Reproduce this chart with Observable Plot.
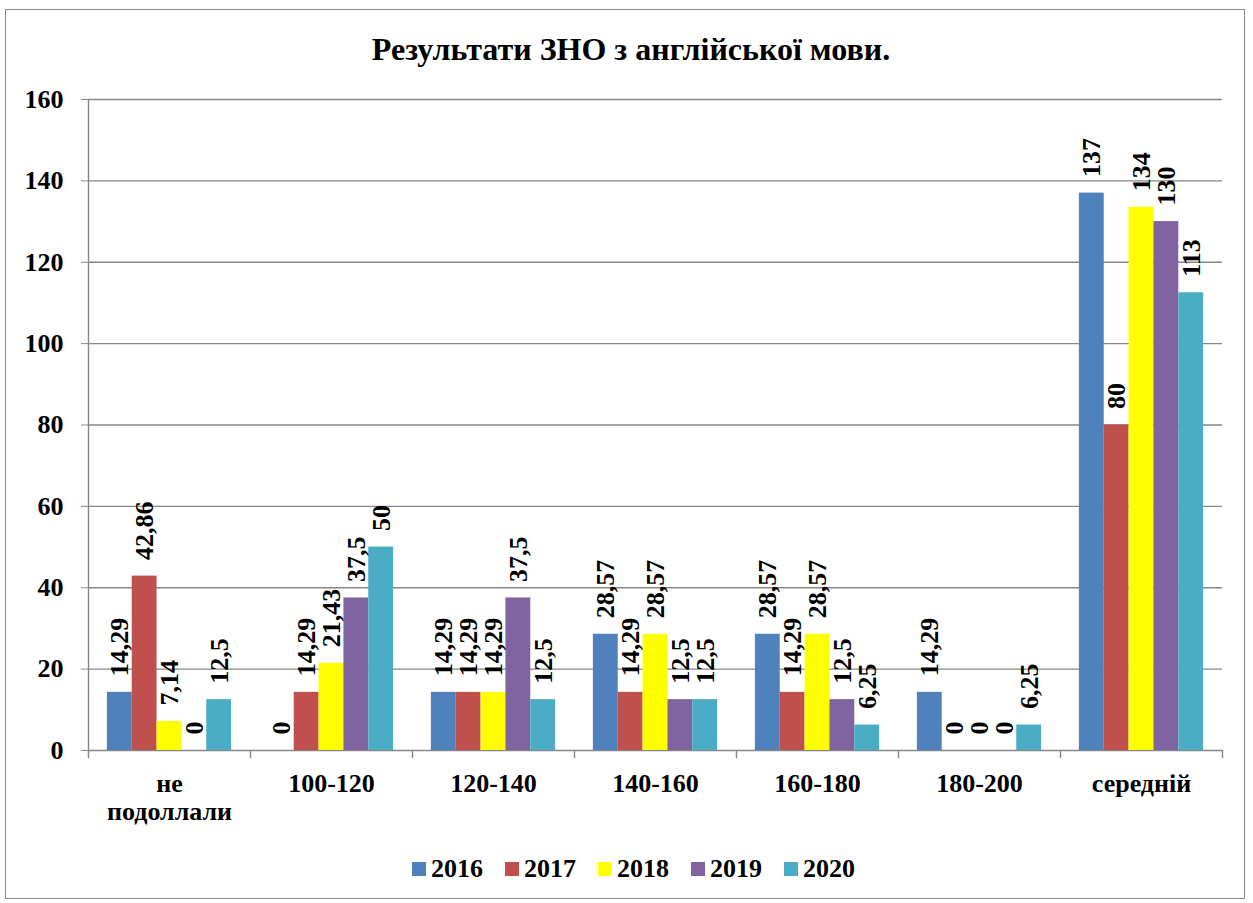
<!DOCTYPE html>
<html>
<head>
<meta charset="utf-8">
<script src="https://cdn.jsdelivr.net/npm/d3@7"></script>
<script src="https://cdn.jsdelivr.net/npm/@observablehq/plot@0.6"></script>
<style>
  html, body { margin: 0; padding: 0; background: #fff; }
  body { width: 1253px; height: 903px; position: relative; overflow: hidden;
         font-family: "Liberation Serif", "Times New Roman", serif; font-weight: bold; color: #000; }
  #frame { position: absolute; left: 5px; top: 9px; width: 1240px; height: 890px;
           border: 1.5px solid #8a8a8a; box-sizing: border-box; }
  #title { position: absolute; left: 11px; width: 1240px; top: 33px; text-align: center;
           font-size: 32px; line-height: 1; }
  #chart { position: absolute; left: 0; top: 0; }
  #legend { position: absolute; left: 412px; top: 856px; display: flex; align-items: center;
            font-size: 26px; line-height: 1; }
  #legend .item { display: flex; align-items: center; margin-right: 22px; }
  #legend .sw { width: 14px; height: 14px; margin-right: 5px; }
  #chart svg text { font-family: "Liberation Serif", "Times New Roman", serif; }
</style>
</head>
<body>
<div id="frame"></div>
<div id="title">Результати ЗНО з англійської мови.</div>
<div id="chart"></div>
<div id="legend"></div>
<script>
// ---- data ----
const categories = ["не подоллали", "100-120", "120-140", "140-160", "160-180", "180-200", "середній"];
const years = ["2016", "2017", "2018", "2019", "2020"];
const colors = ["#4F81BD", "#C0504D", "#FFFF00", "#8064A2", "#4BACC6"];
const v2016 = [14.29, 0, 14.29, 28.57, 28.57, 14.29, 137];
const v2017 = [42.86, 14.29, 14.29, 14.29, 14.29, 0, 80];
const v2018 = [7.14, 21.43, 14.29, 28.57, 28.57, 0, 133.5];
const v2019 = [0, 37.5, 37.5, 12.5, 12.5, 0, 130];
const v2020 = [12.5, 50, 12.5, 12.5, 6.25, 6.25, 112.5];
const yTicks = [0, 20, 40, 60, 80, 100, 120, 140, 160];

const series = [v2016, v2017, v2018, v2019, v2020];
const rows = [];
categories.forEach((cat, ci) => {
  years.forEach((yr, yi) => {
    rows.push({cat, year: yr, yi, value: series[yi][ci]});
  });
});
const fmt = v => v >= 100 ? String(Math.round(v)) : String(v).replace(".", ",");

// ---- layout / style ----
const pad = 0.76;                       // outer padding of each group, in bar widths
const xMax = years.length + 2 * pad;
const gray = "#868686";
const W = 1253, H = 840;
const serif = "'Liberation Serif', 'Times New Roman', serif";

const plot = Plot.plot({
  width: W, height: H,
  marginTop: 99, marginBottom: 90, marginLeft: 85, marginRight: 28,
  style: {background: "transparent", fontFamily: serif,
          fontWeight: "bold", fontSize: "26px", color: "#000", overflow: "visible"},
  fx: {domain: categories, padding: 0},
  x: {domain: [0, xMax], axis: null},
  y: {domain: [0, 160]},
  color: {domain: years, range: colors},
  marks: [
    Plot.ruleY(yTicks, {stroke: gray, strokeWidth: 1.4}),
    Plot.ruleX(categories, {fx: d => d, x: 0, y1: 0, y2: -2, stroke: gray, strokeWidth: 1.4}),
    Plot.ruleX(categories.slice(-1), {fx: d => d, x: xMax, y1: 0, y2: -2, stroke: gray, strokeWidth: 1.4}),
    Plot.ruleX(categories.slice(0, 1), {fx: d => d, x: 0, y1: 0, y2: 160, stroke: gray, strokeWidth: 1.4}),
    Plot.rectY(rows, {fx: "cat", x1: d => d.yi + pad, x2: d => d.yi + pad + 1, y: "value", fill: "year"}),
    Plot.text(rows, {fx: "cat", x: d => d.yi + pad + 0.5, y: "value", text: d => fmt(d.value),
                     rotate: -90, textAnchor: "start", lineAnchor: "middle", dy: -16,
                     fontSize: 26, fontWeight: "bold", fill: "#000"}),
    Plot.axisY({ticks: yTicks, tickSize: 7, tickPadding: 18, stroke: gray, fill: "#000",
                fontSize: 26, fontWeight: "bold", label: null, tickFormat: d => String(d)}),
    Plot.axisFx({anchor: "bottom", tickSize: 0, tickPadding: 21, label: null, fontSize: 26,
                 fontWeight: "bold", fill: "#000", lineHeight: 1.1,
                 tickFormat: d => d.replace(" ", "\n")})
  ]
});
document.getElementById("chart").appendChild(plot);

// ---- legend ----
const legend = document.getElementById("legend");
years.forEach((yr, i) => {
  const item = document.createElement("div");
  item.className = "item";
  const sw = document.createElement("div");
  sw.className = "sw";
  sw.style.background = colors[i];
  const t = document.createElement("span");
  t.textContent = yr;
  item.appendChild(sw);
  item.appendChild(t);
  legend.appendChild(item);
});
</script>
</body>
</html>
